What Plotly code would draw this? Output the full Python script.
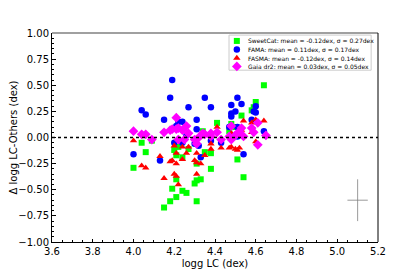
import plotly.graph_objects as go

# SweetCat (green squares)
sc_x = [4.00, 4.04, 4.06, 4.09, 4.15, 4.18, 4.19, 4.21, 4.21, 4.20, 4.21, 4.22, 4.24, 4.24,
        4.26, 4.27, 4.30, 4.31, 4.31, 4.33, 4.31, 4.34, 4.35, 4.38, 4.38, 4.41, 4.47, 4.48,
        4.51, 4.53, 4.54, 4.58, 4.59, 4.60, 4.64, 4.50]
sc_y = [-0.29, -0.05, -0.14, -0.03, -0.67, -0.61, -0.49, -0.57, -0.40, -0.12, -0.17, -0.09,
        -0.51, -0.19, -0.53, -0.11, -0.44, -0.61, -0.41, -0.40, -0.25, 0.06, -0.14, -0.15,
        -0.30, 0.14, 0.06, 0.13, -0.21, 0.21, -0.38, 0.26, 0.29, 0.34, 0.50, 0.10]

# FAMA (blue circles)
fa_x = [4.00, 4.04, 4.06, 4.13, 4.15, 4.18, 4.19, 4.21, 4.22, 4.24, 4.27, 4.26, 4.31, 4.31,
        4.30, 4.33, 4.35, 4.38, 4.38, 4.43, 4.48, 4.48, 4.48, 4.50, 4.51, 4.53, 4.54, 4.58,
        4.59, 4.60, 4.60, 4.64, 4.20, 4.24, 4.32, 4.47, 4.51, 4.51]
fa_y = [-0.16, 0.26, 0.22, -0.22, 0.17, 0.38, 0.55, 0.11, 0.15, 0.15, 0.29, 0.02, 0.08, 0.17,
        -0.06, -0.19, 0.38, 0.29, -0.03, -0.05, 0.31, 0.23, 0.20, 0.25, 0.38, 0.32, -0.16, 0.17,
        0.25, 0.30, 0.24, 0.06, -0.05, -0.05, -0.08, 0.10, 0.01, 0.10]

# FASMA (red triangles)
fs_x = [4.00, 4.04, 4.06, 4.13, 4.15, 4.18, 4.19, 4.20, 4.20, 4.21, 4.21, 4.21, 4.22, 4.24,
        4.24, 4.26, 4.27, 4.30, 4.31, 4.31, 4.31, 4.33, 4.35, 4.38, 4.38, 4.41, 4.43, 4.47,
        4.48, 4.48, 4.50, 4.51, 4.52, 4.54, 4.58, 4.60, 4.60, 4.64, 4.58, 4.53]
fs_y = [-0.03, -0.27, -0.29, -0.18, -0.39, -0.23, -0.22, -0.08, -0.35, -0.37, -0.25, -0.15,
        -0.45, -0.21, -0.09, -0.15, -0.09, -0.22, -0.24, -0.35, -0.15, -0.25, -0.17, -0.06,
        -0.11, 0.10, -0.10, -0.10, 0.04, -0.09, -0.11, -0.12, -0.10, 0.16, 0.14, -0.04, 0.17,
        0.16, 0.05, 0.07]

# Gaia dr2 (magenta diamonds)
ga_x = [4.00, 4.04, 4.06, 4.09, 4.15, 4.18, 4.19, 4.21, 4.21, 4.22, 4.24, 4.26, 4.25, 4.27,
        4.30, 4.31, 4.33, 4.34, 4.35, 4.38, 4.38, 4.41, 4.43, 4.47, 4.48, 4.48, 4.50, 4.51,
        4.52, 4.53, 4.58, 4.59, 4.61, 4.61, 4.65, 4.54, 4.31, 4.22]
ga_y = [0.06, 0.03, 0.03, -0.02, 0.05, 0.07, 0.08, 0.19, 0.08, 0.09, 0.07, 0.11, -0.02, 0.04,
        -0.02, -0.06, 0.02, 0.04, 0.03, 0.04, 0.01, 0.05, -0.02, 0.01, 0.11, -0.02, 0.02, 0.04,
        0.05, 0.09, 0.09, 0.05, -0.07, 0.14, 0.02, 0.01, -0.02, -0.02]

# typical error bar
err_x = [5.1]
err_y = [-0.6]
err_dx = [0.05]
err_dy = [0.2]

labels = ["SweetCat: mean = -0.12dex, \u03c3 = 0.27dex",
          "FAMA: mean = 0.11dex, \u03c3 = 0.17dex",
          "FASMA: mean = -0.12dex, \u03c3 = 0.14dex",
          "Gaia dr2: mean = 0.03dex, \u03c3 = 0.05dex"]

series = [
    (sc_x, sc_y, "square", "#00ff00", 6),
    (fa_x, fa_y, "circle", "#0000ff", 6.5),
    (fs_x, fs_y, "triangle-up", "#ff0000", 6.5),
    (ga_x, ga_y, "diamond", "#ff00ff", 7.5),
]

fig = go.Figure()
for (xs, ys, sym, col, sz), lab in zip(series, labels):
    fig.add_trace(go.Scatter(x=xs, y=ys, mode="markers", name=lab, showlegend=False,
                             marker=dict(symbol=sym, color=col, size=sz)))

fig.add_trace(go.Scatter(x=err_x, y=err_y, mode="markers", showlegend=False,
                         marker=dict(size=0.1, color="rgba(0,0,0,0)"),
                         error_x=dict(type="data", array=err_dx, color="#808080", thickness=0.8, width=0),
                         error_y=dict(type="data", array=err_dy, color="#808080", thickness=0.8, width=0)))

# compact legend drawn on an overlay axis in paper-like units
leg_rows = [0.962, 0.921, 0.880, 0.840]
leg_sym_x = 0.567
leg_txt_x = 0.595
fig.add_shape(type="rect", xref="paper", yref="paper", x0=0.543, x1=0.979, y0=0.822, y1=0.99,
              line=dict(color="#cccccc", width=1), fillcolor="white", layer="below")
for (xs, ys, sym, col, sz), lab, ry in zip(series, labels, leg_rows):
    fig.add_trace(go.Scatter(x=[leg_sym_x], y=[ry], xaxis="x2", yaxis="y2", mode="markers",
                             showlegend=False, hoverinfo="skip",
                             marker=dict(symbol=sym, color=col, size=sz)))
    fig.add_annotation(x=leg_txt_x, y=ry, xref="paper", yref="paper", text=lab, showarrow=False,
                       xanchor="left", yanchor="middle",
                       font=dict(family="DejaVu Sans", size=6, color="black"))

# dotted zero line
fig.add_shape(type="line", xref="paper", yref="y", x0=0, x1=1, y0=0, y1=0,
              line=dict(color="black", width=1.5, dash="dot"))
# spines
fig.add_shape(type="line", xref="paper", yref="paper", x0=0, x1=1, y0=1, y1=1,
              line=dict(color="#808080", width=1.6))
fig.add_shape(type="line", xref="paper", yref="paper", x0=1, x1=1, y0=0, y1=1,
              line=dict(color="black", width=1))

tickfont = dict(family="DejaVu Sans", size=10, color="black")
fig.update_layout(
    width=407, height=269,
    margin=dict(l=44, r=37, t=25, b=35),
    plot_bgcolor="white", paper_bgcolor="white",
    font=dict(family="DejaVu Sans", color="black"),
    showlegend=False,
    xaxis=dict(range=[3.6, 5.2], dtick=0.2, tick0=3.6, tickformat=".1f", automargin=False,
               showgrid=False, zeroline=False, showline=True, linecolor="black", linewidth=1,
               ticks="inside", ticklen=3.5, tickcolor="black",
               minor=dict(dtick=0.05, ticks="inside", ticklen=2, tickcolor="black", showgrid=False),
               tickfont=tickfont,
               title=dict(text="logg LC (dex)", font=dict(family="DejaVu Sans", size=10), standoff=3)),
    yaxis=dict(range=[-1.0, 1.0], dtick=0.25, tick0=-1.0, tickformat=".2f", automargin=False,
               showgrid=False, zeroline=False, showline=True, linecolor="black", linewidth=1,
               ticks="inside", ticklen=3.5, tickcolor="black",
               minor=dict(dtick=0.05, ticks="inside", ticklen=2, tickcolor="black", showgrid=False),
               tickfont=tickfont,
               title=dict(text="\u0394 logg LC-Others (dex)", font=dict(family="DejaVu Sans", size=10), standoff=0)),
    xaxis2=dict(range=[0, 1], overlaying="x", visible=False, fixedrange=True),
    yaxis2=dict(range=[0, 1], overlaying="y", visible=False, fixedrange=True),
)

fig.write_html("out.html")
